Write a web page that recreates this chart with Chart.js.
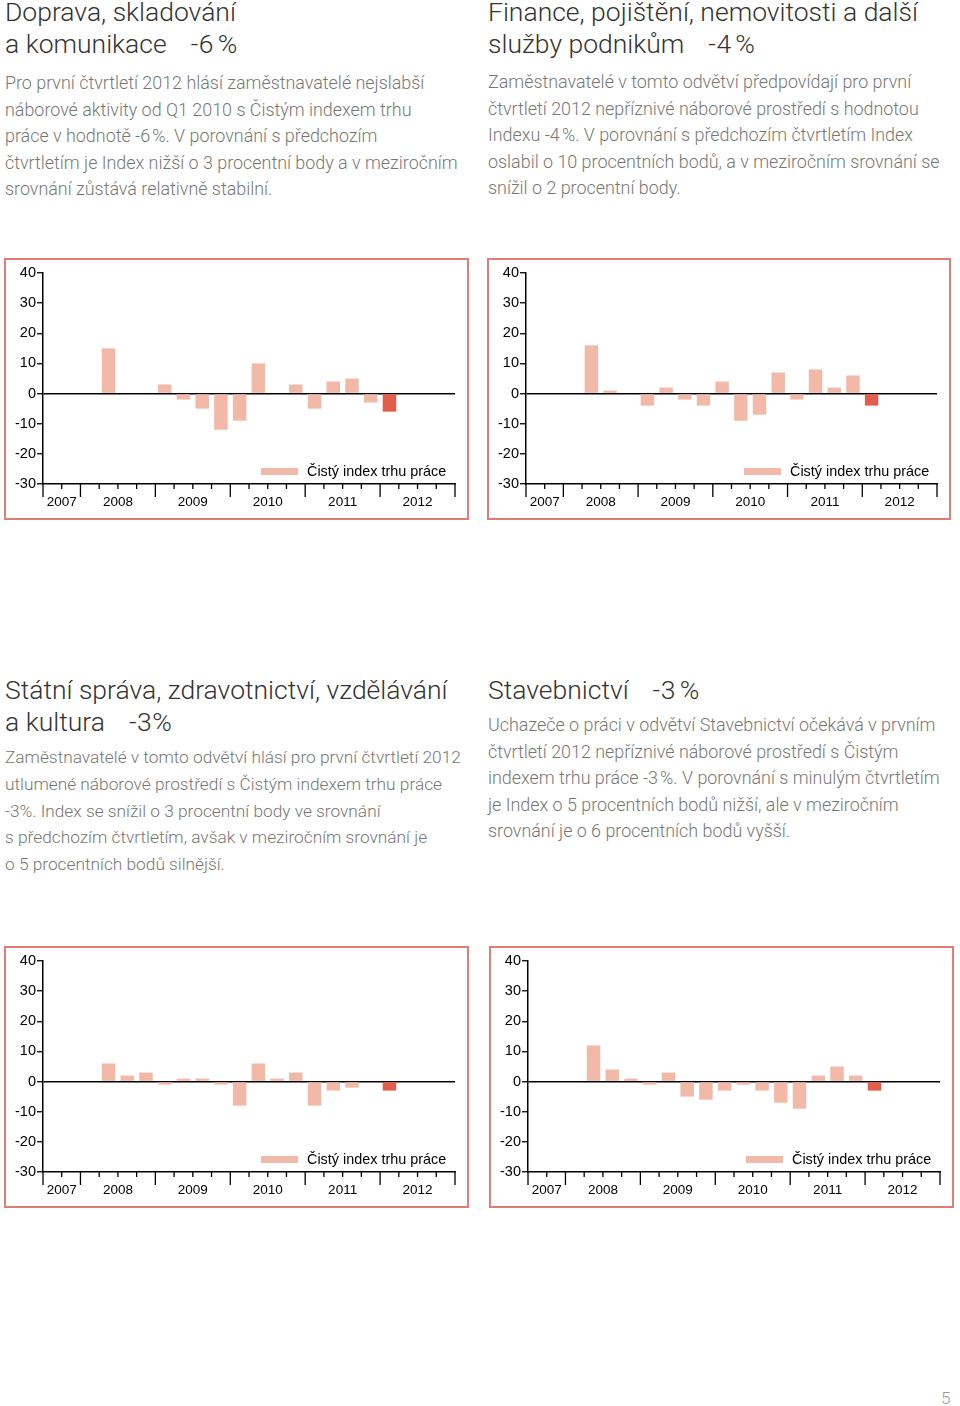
<!DOCTYPE html>
<html lang="cs">
<head>
<meta charset="utf-8">
<script src="https://cdn.jsdelivr.net/npm/chart.js@4.4.1/dist/chart.umd.min.js"></script>
<style>
  html, body { margin: 0; padding: 0; background: #fff; }
  body { width: 960px; height: 1406px; position: relative; overflow: hidden; font-family: Roboto, 'Liberation Sans', sans-serif; }
  .title { position: absolute; font-size: 26.5px; font-weight: 300; line-height: 32px; color: #333; white-space: nowrap; }
  .title .pct { margin-left: 24px; letter-spacing: 0.5px; }
  .text { position: absolute; font-size: 17.9px; font-weight: 300; line-height: 26.6px; color: #777; white-space: nowrap; }
  .text.narrow { font-size: 17.3px; line-height: 26.8px; }
  .panel { position: absolute; width: 465px; height: 262px; }
  .panel .frame { position: absolute; left: 0; top: 0; right: 0; bottom: 0; border: 2px solid #df7f73; }
  .panel .plot { position: absolute; left: 0; top: 0; right: 0; bottom: 0; }
  .legend { position: absolute; left: 257px; top: 204px; height: 18px; font-family: 'Liberation Sans', Arial, sans-serif; font-size: 14.4px; line-height: 18px; color: #000; white-space: nowrap; }
  .legend i { display: inline-block; width: 37px; height: 7px; background: #f3b9a8; vertical-align: middle; margin-right: 9px; position: relative; top: -1px; }
  .pageno { position: absolute; left: 941px; top: 1388px; font-size: 17px; font-weight: 300; color: #999; }
</style>
</head>
<body>

<div class="title" style="left:5px; top:-4px;">Doprava, skladování<br>a komunikace<span class="pct">-6&#8239;%</span></div>
<div class="text" style="left:5px; top:70px;">Pro první čtvrtletí 2012 hlásí zaměstnavatelé nejslabší<br>náborové aktivity od Q1 2010 s Čistým indexem trhu<br>práce v hodnotě -6&#8239;%. V porovnání s předchozím<br>čtvrtletím je Index nižší o 3 procentní body a v meziročním<br>srovnání zůstává relativně stabilní.</div>

<div class="title" style="left:488px; top:-4px;">Finance, pojištění, nemovitosti a další<br>služby podnikům<span class="pct">-4&#8239;%</span></div>
<div class="text" style="left:488px; top:69px;">Zaměstnavatelé v tomto odvětví předpovídají pro první<br>čtvrtletí 2012 nepříznivé náborové prostředí s hodnotou<br>Indexu -4&#8239;%. V porovnání s předchozím čtvrtletím Index<br>oslabil o 10 procentních bodů, a v meziročním srovnání se<br>snížil o 2 procentní body.</div>

<div class="title" style="left:5px; top:674px;">Státní správa, zdravotnictví, vzdělávání<br>a kultura<span class="pct">-3%</span></div>
<div class="text narrow" style="left:5px; top:744px;">Zaměstnavatelé v tomto odvětví hlásí pro první čtvrtletí 2012<br>utlumené náborové prostředí s Čistým indexem trhu práce<br>-3%. Index se snížil o 3 procentní body ve srovnání<br>s předchozím čtvrtletím, avšak v meziročním srovnání je<br>o 5 procentních bodů silnější.</div>

<div class="title" style="left:488px; top:674px;">Stavebnictví<span class="pct">-3&#8239;%</span></div>
<div class="text" style="left:488px; top:712px;">Uchazeče o práci v odvětví Stavebnictví očekává v prvním<br>čtvrtletí 2012 nepříznivé náborové prostředí s Čistým<br>indexem trhu práce -3&#8239;%. V porovnání s minulým čtvrtletím<br>je Index o 5 procentních bodů nižší, ale v meziročním<br>srovnání je o 6 procentních bodů vyšší.</div>

<div class="panel" style="left:4px; top:258px;"><div class="frame"></div><div class="plot"><canvas id="doprava"></canvas></div><div class="legend"><i></i>Čistý index trhu práce</div></div>
<div class="panel" style="left:487px; top:258px; width:464px;"><div class="frame"></div><div class="plot"><canvas id="finance"></canvas></div><div class="legend"><i></i>Čistý index trhu práce</div></div>
<div class="panel" style="left:4px; top:946px;"><div class="frame"></div><div class="plot"><canvas id="statni"></canvas></div><div class="legend"><i></i>Čistý index trhu práce</div></div>
<div class="panel" style="left:489px; top:946px;"><div class="frame"></div><div class="plot"><canvas id="stavebnictvi"></canvas></div><div class="legend"><i></i>Čistý index trhu práce</div></div>

<div class="pageno">5</div>

<script>
const quarters = [
  'Q3 2007', 'Q4 2007',
  'Q1 2008', 'Q2 2008', 'Q3 2008', 'Q4 2008',
  'Q1 2009', 'Q2 2009', 'Q3 2009', 'Q4 2009',
  'Q1 2010', 'Q2 2010', 'Q3 2010', 'Q4 2010',
  'Q1 2011', 'Q2 2011', 'Q3 2011', 'Q4 2011',
  'Q1 2012', 'Q2 2012', 'Q3 2012', 'Q4 2012'
];
const years = ['2007', '2008', '2009', '2010', '2011', '2012'];
const currentQuarter = 'Q1 2012';
const seriesLabel = 'Čistý index trhu práce';

// Čistý index trhu práce by quarter (null = no survey)
const dopravaValues      = [null, null, null, 15, 0, 0, 3, -2, -5, -12, -9, 10, 0, 3, -5, 4, 5, -3, -6, null, null, null];
const financeValues      = [null, null, null, 16, 1, 0, -4, 2, -2, -4, 4, -9, -7, 7, -2, 8, 2, 6, -4, null, null, null];
const statniValues       = [null, null, null, 6, 2, 3, -1, 1, 1, -1, -8, 6, 1, 3, -8, -3, -2, 0, -3, null, null, null];
const stavebnictviValues = [null, null, null, 12, 4, 1, -1, 3, -5, -6, -3, -1, -3, -7, -9, 2, 5, 2, -3, null, null, null];

const lightColor = '#f3b9a8';
const darkColor = '#e25e4a';

// centre of the quarters that belong to a year
const yearCenter = (year) => {
  const idx = quarters.map((q, i) => (q.endsWith(year) ? i + 0.5 : null)).filter((v) => v !== null);
  return idx.reduce((a, b) => a + b, 0) / idx.length;
};

// short ticks at every quarter boundary, long ones between years
const quarterTicks = {
  id: 'quarterTicks',
  afterDraw(chart) {
    const { ctx, chartArea } = chart;
    const x = chart.scales.x;
    ctx.save();
    ctx.strokeStyle = '#000';
    ctx.lineWidth = 1.3;
    for (let i = 0; i <= quarters.length; i++) {
      const major = i === 0 || i === quarters.length || quarters[i].startsWith('Q1');
      const px = x.getPixelForValue(i);
      ctx.beginPath();
      ctx.moveTo(px, chartArea.bottom);
      ctx.lineTo(px, chartArea.bottom + (major ? 13 : 5));
      ctx.stroke();
    }
    ctx.restore();
  },
};

const makeChart = (canvasId, values) => {
  const current = quarters.indexOf(currentQuarter);
  new Chart(document.getElementById(canvasId), {
    type: 'bar',
    data: {
      datasets: [
        {
          label: seriesLabel,
          data: quarters.map((q, i) => ({ x: i + 0.5, y: values[i] })),
          backgroundColor: (c) => (c.dataIndex === current ? darkColor : lightColor),
          borderWidth: 0,
          barPercentage: 0.72,
          categoryPercentage: 1,
        },
      ],
    },
    options: {
      responsive: true,
      maintainAspectRatio: false,
      animation: false,
      layout: { padding: { top: 15, right: 14, bottom: 0, left: 0 } },
      plugins: { legend: { display: false }, tooltip: { enabled: false } },
      scales: {
        x: {
          type: 'linear',
          min: 0,
          max: quarters.length,
          offset: false,
          grid: { display: false, drawTicks: false },
          border: { color: '#000', width: 1.5 },
          ticks: {
            color: '#000',
            font: { family: 'Liberation Sans', size: 13.5 },
            padding: 10,
            maxRotation: 0,
            autoSkip: false,
            callback: (v, i) => years[i],
          },
          afterBuildTicks: (s) => {
            s.ticks = years.map((y) => ({ value: yearCenter(y) }));
          },
          afterFit: (s) => {
            s.height = 36;
          },
        },
        y: {
          min: -30,
          max: 40,
          ticks: { stepSize: 10, color: '#000', font: { family: 'Liberation Sans', size: 14.5 }, padding: 1 },
          grid: {
            color: (c) => (c.tick && c.tick.value === 0 ? '#000' : 'rgba(0,0,0,0)'),
            lineWidth: 1.5,
            tickColor: '#000',
            tickLength: 6,
            tickWidth: 1.3,
          },
          border: { color: '#000', width: 1.5 },
          afterFit: (s) => {
            s.width = 39;
          },
        },
      },
    },
    plugins: [quarterTicks],
  });
};

makeChart('doprava', dopravaValues);
makeChart('finance', financeValues);
makeChart('statni', statniValues);
makeChart('stavebnictvi', stavebnictviValues);
</script>
</body>
</html>
